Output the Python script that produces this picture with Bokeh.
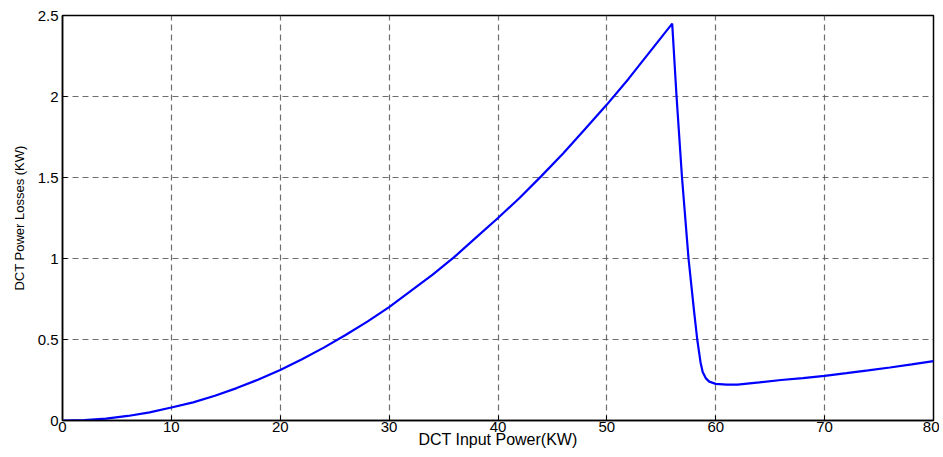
from bokeh.plotting import figure
from bokeh.embed import file_html
from bokeh.resources import INLINE
from bokeh.models import FixedTicker, ColumnDataSource

# Data
input_power_kw = [0, 2, 4, 6, 8, 10, 12, 14, 16, 18, 20, 22, 24, 26, 28, 30, 32, 34, 36, 38,
                  40, 42, 44, 46, 48, 50, 52, 54, 56, 56.4, 56.9, 57.5, 58.0, 58.3, 58.6, 58.8,
                  59.1, 59.4, 60, 61, 62, 64, 66, 68, 70, 72, 74, 76, 78, 80]
power_loss_kw = [0, 0.003, 0.012, 0.028, 0.05, 0.08, 0.112, 0.153, 0.2, 0.253, 0.312, 0.378,
                 0.45, 0.528, 0.61, 0.70, 0.80, 0.90, 1.01, 1.13, 1.25, 1.375, 1.51, 1.65, 1.80,
                 1.95, 2.11, 2.28, 2.45, 2.0, 1.5, 1.0, 0.68, 0.5, 0.36, 0.3, 0.26, 0.24, 0.226,
                 0.222, 0.222, 0.235, 0.25, 0.262, 0.276, 0.292, 0.309, 0.327, 0.346, 0.366]

x_ticks = [0, 10, 20, 30, 40, 50, 60, 70, 80]
y_ticks = [0, 0.5, 1, 1.5, 2, 2.5]
y_tick_labels = ["0", "0.5", "1", "1.5", "2", "2.5"]
x_tick_labels = ["0", "10", "20", "30", "40", "50", "60", "70", "80"]

FONT = "Liberation Sans"

p = figure(frame_width=871, frame_height=405, output_backend="svg", toolbar_location=None,
           x_range=(0, 80), y_range=(0, 2.5),
           min_border_left=62, min_border_top=15, min_border_right=6, min_border_bottom=20)
p.background_fill_color = "white"
p.border_fill_color = "white"
p.outline_line_color = "black"
p.outline_line_width = 1.5
p.outline_line_alpha = 1

src = ColumnDataSource(dict(x=input_power_kw, y=power_loss_kw))
p.line("x", "y", source=src, line_color="#0000FF", line_width=2.2)

for ax in (p.xaxis[0], p.yaxis[0]):
    ax.major_tick_in = 5
    ax.major_tick_out = 0
    ax.minor_tick_in = 0
    ax.minor_tick_out = 0
    ax.axis_line_color = "black"
    ax.axis_line_width = 1.5
    ax.major_tick_line_color = "black"
    ax.major_label_text_font = FONT
    ax.major_label_text_font_size = "15px"
    ax.major_label_text_color = "black"
    ax.axis_label_text_font = FONT
    ax.axis_label_text_font_style = "normal"
    ax.axis_label_text_color = "black"

p.xaxis.axis_label_text_font_size = "16px"
p.yaxis.axis_label_text_font_size = "13px"

p.xaxis.ticker = FixedTicker(ticks=x_ticks)
p.yaxis.ticker = FixedTicker(ticks=y_ticks)
p.xaxis.major_label_overrides = {t: l for t, l in zip(x_ticks, x_tick_labels)}
p.yaxis.major_label_overrides = {t: l for t, l in zip(y_ticks, y_tick_labels)}
p.xaxis.axis_label = "DCT Input Power(KW)"
p.yaxis.axis_label = "DCT Power Losses (KW)"
p.xaxis.major_label_standoff = 1
p.xaxis.axis_label_standoff = -4
p.yaxis.major_label_standoff = 4
p.yaxis.axis_label_standoff = 8

p.grid.grid_line_color = "#555555"
p.grid.grid_line_alpha = 0.85
p.grid.grid_line_dash = "6 4"
p.grid.grid_line_width = 1.2

open("out.html", "w").write(file_html(p, INLINE))
